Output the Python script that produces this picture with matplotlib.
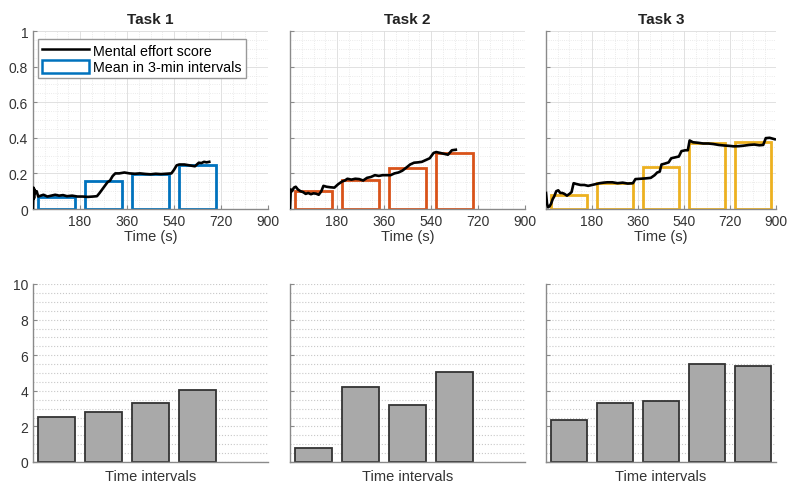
import matplotlib
matplotlib.use("Agg")
import matplotlib.pyplot as plt
from matplotlib.lines import Line2D
from matplotlib.patches import Patch
from matplotlib.ticker import MultipleLocator

plt.rcParams['font.family'] = ['Liberation Sans', 'DejaVu Sans']

# ---------------- data ----------------
task_titles = ["Task 1", "Task 2", "Task 3"]
interval_colors = ["#0072BD", "#D95319", "#EDB120"]
interval_centers = [90, 270, 450, 630, 810]

t1_time = [0, 2, 4, 6, 10, 14, 20, 30, 40, 55, 70, 85, 100, 115, 130, 150, 170, 190, 210, 230,
           245, 255, 265, 275, 285, 295, 305, 315, 330, 350, 370, 390, 410, 430, 450, 470, 490,
           510, 530, 540, 550, 560, 580, 600, 620, 635, 645, 655, 665, 675]
t1_score = [0.0, 0.12, 0.06, 0.11, 0.09, 0.10, 0.07, 0.075, 0.08, 0.07, 0.075, 0.08, 0.075, 0.078,
            0.072, 0.075, 0.07, 0.07, 0.068, 0.07, 0.072, 0.09, 0.11, 0.13, 0.15, 0.16, 0.185, 0.2,
            0.2, 0.205, 0.2, 0.198, 0.2, 0.197, 0.195, 0.198, 0.196, 0.198, 0.2, 0.22, 0.245, 0.25,
            0.25, 0.245, 0.24, 0.26, 0.258, 0.265, 0.262, 0.265]
t1_means = [0.068, 0.16, 0.197, 0.249]

t2_time = [0, 3, 8, 15, 22, 30, 40, 50, 60, 70, 80, 90, 100, 110, 120, 128, 140, 155, 170, 185,
           200, 210, 220, 235, 250, 265, 280, 295, 310, 325, 340, 355, 370, 385, 400, 415, 430,
           445, 460, 475, 490, 505, 520, 535, 550, 560, 575, 590, 605, 620, 635]
t2_score = [0.0, 0.11, 0.10, 0.12, 0.125, 0.11, 0.10, 0.095, 0.085, 0.09, 0.083, 0.088, 0.086,
            0.08, 0.10, 0.13, 0.125, 0.122, 0.12, 0.14, 0.155, 0.16, 0.17, 0.165, 0.17, 0.168,
            0.16, 0.175, 0.18, 0.19, 0.186, 0.19, 0.19, 0.19, 0.2, 0.205, 0.215, 0.232, 0.25,
            0.26, 0.262, 0.265, 0.275, 0.285, 0.315, 0.32, 0.315, 0.31, 0.305, 0.33, 0.333]
t2_means = [0.099, 0.163, 0.229, 0.315]

t3_time = [0, 4, 8, 14, 20, 26, 32, 40, 48, 56, 64, 72, 82, 92, 100, 108, 120, 135, 150, 165,
           180, 195, 210, 225, 240, 260, 280, 300, 320, 340, 350, 370, 390, 410, 425, 435, 445,
           452, 465, 480, 490, 505, 520, 530, 545, 555, 562, 575, 595, 615, 635, 655, 675, 695,
           715, 735, 755, 775, 795, 815, 835, 850, 860, 875, 895]
t3_score = [0.09, 0.03, 0.01, 0.015, 0.03, 0.055, 0.07, 0.1, 0.105, 0.09, 0.09, 0.085, 0.075,
            0.085, 0.095, 0.145, 0.14, 0.135, 0.135, 0.13, 0.135, 0.14, 0.145, 0.148, 0.15, 0.15,
            0.145, 0.148, 0.143, 0.145, 0.168, 0.17, 0.172, 0.175, 0.19, 0.205, 0.21, 0.25, 0.255,
            0.262, 0.285, 0.29, 0.295, 0.325, 0.33, 0.33, 0.385, 0.375, 0.372, 0.368, 0.368,
            0.365, 0.36, 0.357, 0.355, 0.352, 0.353, 0.356, 0.36, 0.362, 0.358, 0.36, 0.398,
            0.40, 0.392]
t3_means = [0.080, 0.144, 0.238, 0.371, 0.378]

bar1_values = [2.55, 2.83, 3.31, 4.04]
bar2_values = [0.80, 4.23, 3.20, 5.07]
bar3_values = [2.36, 3.30, 3.43, 5.50, 5.38]

time_ticks = [180, 360, 540, 720, 900]
score_ticks = [0, 0.2, 0.4, 0.6, 0.8, 1]
bar_ticks = [0, 2, 4, 6, 8, 10]

series = [(t1_time, t1_score, t1_means, bar1_values),
          (t2_time, t2_score, t2_means, bar2_values),
          (t3_time, t3_score, t3_means, bar3_values)]

# ---------------- figure ----------------
W, H = 790, 485
fig = plt.figure(figsize=(W / 100, H / 100), dpi=100)
lefts = [33, 290, 546]
widths = [235, 235, 230]

def style(ax):
    for s in ["top", "right"]:
        ax.spines[s].set_visible(False)
    for s in ["left", "bottom"]:
        ax.spines[s].set_color("#8a8a8a")
        ax.spines[s].set_linewidth(1.0)
    ax.tick_params(direction="in", length=3, width=0.8, colors="#8a8a8a",
                   labelcolor="#333333", labelsize=10)
    ax.tick_params(which="minor", length=0)

for i, (tt, sc, means, bars) in enumerate(series):
    pw = widths[i]
    # top panel
    ax = fig.add_axes([lefts[i] / W, (H - 210) / H, pw / W, 178 / H])
    style(ax)
    ax.set_xlim(0, 900)
    ax.set_ylim(0, 1)
    ax.set_xticks(time_ticks)
    ax.set_yticks(score_ticks)
    ax.set_yticklabels(["0", "0.2", "0.4", "0.6", "0.8", "1"] if i == 0 else [])
    ax.xaxis.set_minor_locator(MultipleLocator(45))
    ax.yaxis.set_minor_locator(MultipleLocator(0.05))
    ax.grid(which="major", color="#dcdcdc", linewidth=0.6)
    ax.grid(which="minor", color="#e4e4e4", linewidth=0.6, linestyle=":")
    ax.set_axisbelow(True)
    n = len(means)
    ax.bar(interval_centers[:n], means, width=144, facecolor="none",
           edgecolor=interval_colors[i], linewidth=2.0, zorder=2)
    ax.plot(tt, sc, color="black", linewidth=1.9, zorder=3)
    ax.set_title(task_titles[i], fontsize=11, fontweight="bold", pad=6, color="#222222")
    ax.set_xlabel("Time (s)", fontsize=10.5, color="#333333", labelpad=1)
    if i == 0:
        handles = [Line2D([0], [0], color="black", linewidth=1.8),
                   Patch(facecolor="white", edgecolor=interval_colors[0], linewidth=1.8)]
        ax.legend(handles, ["Mental effort score", "Mean in 3-min intervals"],
                  loc="upper left", bbox_to_anchor=(0.02, 0.955), fontsize=10.3,
                  frameon=True, fancybox=False, edgecolor="#999999", framealpha=1,
                  handlelength=3.3, handleheight=1.0, handletextpad=0.3,
                  borderpad=0.3, labelspacing=0.15, borderaxespad=0.0)

    # bottom panel
    bx = fig.add_axes([lefts[i] / W, (H - 463) / H, pw / W, 178 / H])
    style(bx)
    bx.set_xlim(0.5, 5.5)
    bx.set_ylim(0, 10)
    bx.set_yticks(bar_ticks)
    bx.set_yticklabels([str(v) for v in bar_ticks] if i == 0 else [])
    bx.set_xticks([])
    bx.yaxis.set_minor_locator(MultipleLocator(0.5))
    bx.grid(axis="y", which="both", color="#c8c8c8", linewidth=0.8, linestyle=":")
    bx.set_axisbelow(True)
    bx.bar(range(1, len(bars) + 1), bars, width=0.8, color="#a9a9a9",
           edgecolor="#333333", linewidth=1.3, zorder=2)
    bx.set_xlabel("Time intervals", fontsize=10.5, color="#333333", labelpad=5)

fig.savefig("out.png", dpi=100)
